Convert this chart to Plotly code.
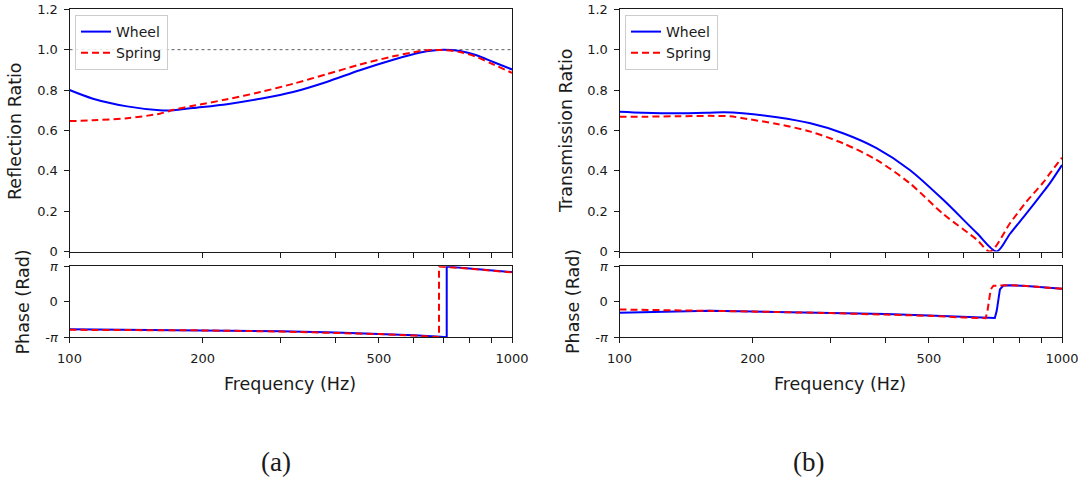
import numpy as np
import plotly.graph_objects as go

PI = np.pi

# ---------------- data ----------------
# (a) Reflection ratio
freq_refl = [100, 113, 135, 160, 172, 190, 227, 270, 320, 381, 453, 539, 598, 641, 700, 763, 832, 907, 1000]
refl_wheel = [0.800, 0.757, 0.719, 0.700, 0.700, 0.711, 0.730, 0.757, 0.790, 0.840, 0.898, 0.950, 0.977,
              0.992, 1.000, 0.993, 0.972, 0.939, 0.902]
refl_spring = [0.646, 0.650, 0.660, 0.683, 0.702, 0.722, 0.754, 0.790, 0.831, 0.878, 0.926, 0.967, 0.987,
               0.997, 0.998, 0.988, 0.964, 0.927, 0.885]

# (a) Reflection phase
freq_rph_wheel = [100, 200, 300, 400, 500, 600, 690, 712, 712, 763, 832, 907, 1000]
rph_wheel = [-2.42, -2.51, -2.60, -2.71, -2.83, -2.95, -3.10, -3.13, 3.12, 3.01, 2.89, 2.77, 2.63]
freq_rph_spring = [100, 200, 300, 400, 500, 600, 684, 684, 712, 763, 832, 907, 1000]
rph_spring = [-2.48, -2.53, -2.63, -2.74, -2.86, -2.99, -3.12, 3.13, 3.09, 3.00, 2.88, 2.75, 2.60]

# (b) Transmission ratio
freq_tr_wheel = [100, 113, 135, 160, 172, 190, 227, 270, 320, 381, 453, 539, 641, 712, 763, 832, 907, 940, 1000]
tr_wheel = [0.693, 0.688, 0.685, 0.688, 0.690, 0.685, 0.665, 0.635, 0.586, 0.512, 0.404, 0.256, 0.093,
            0.0, 0.088, 0.190, 0.295, 0.340, 0.428]
freq_tr_spring = [100, 113, 135, 160, 178, 190, 227, 270, 320, 381, 453, 539, 641, 688, 763, 832, 907, 940, 1000]
tr_spring = [0.668, 0.668, 0.670, 0.672, 0.670, 0.660, 0.632, 0.594, 0.536, 0.454, 0.338, 0.186, 0.060,
             0.0, 0.140, 0.248, 0.342, 0.388, 0.465]

# (b) Transmission phase
freq_tph_wheel = [100, 135, 160, 200, 300, 400, 500, 600, 675, 705, 712, 718, 724, 737, 763, 832, 940, 1000]
tph_wheel = [-0.97, -0.83, -0.80, -0.86, -0.97, -1.09, -1.21, -1.36, -1.45, -1.43, -0.80, 0.20, 1.10,
             1.44, 1.47, 1.39, 1.24, 1.16]
freq_tph_spring = [100, 135, 160, 200, 300, 400, 500, 600, 660, 672, 678, 684, 690, 700, 737, 763, 832, 940, 1000]
tph_spring = [-0.68, -0.74, -0.77, -0.86, -1.00, -1.12, -1.24, -1.39, -1.47, -1.45, -0.90, 0.20, 1.10,
              1.42, 1.46, 1.47, 1.39, 1.24, 1.16]

series_names = ["Wheel", "Spring"]
x_ticks = [100, 200, 300, 400, 500, 600, 700, 800, 900, 1000]
x_ticktext = ["100", "200", "", "", "500", "", "", "", "", "1000"]
ratio_ticks = [0, 0.2, 0.4, 0.6, 0.8, 1.0, 1.2]
ratio_ticktext = ["0", "0.2", "0.4", "0.6", "0.8", "1.0", "1.2"]
phase_ticks = [-PI, 0, PI]
phase_ticktext = ["-<i>π</i>", "0", "<i>π</i>"]

# ---------------- figure ----------------
W, H = 1086, 484
BLUE = "#0000ff"
RED = "#ff0000"
INK = "#1a1a1a"
FONT = "DejaVu Sans"


def px(xp):
    return xp / W


def py(yp):
    return 1 - yp / H


fig = go.Figure()


def add(x, y, name, color, dash, xa, ya, legend, showlegend, shape="linear"):
    fig.add_trace(go.Scatter(
        x=x, y=y, name=name, mode="lines",
        line=dict(color=color, width=2, dash=dash, shape=shape, smoothing=0.8),
        xaxis=xa, yaxis=ya, legend=legend, showlegend=showlegend, cliponaxis=True,
        hoverinfo="x+y+name"))


DASH = "7px,4px"
add(freq_refl, refl_wheel, series_names[0], BLUE, "solid", "x", "y", "legend", True, "spline")
add(freq_refl, refl_spring, series_names[1], RED, DASH, "x", "y", "legend", True, "spline")
add(freq_rph_wheel, rph_wheel, series_names[0], BLUE, "solid", "x2", "y2", "legend", False)
add(freq_rph_spring, rph_spring, series_names[1], RED, DASH, "x2", "y2", "legend", False)
add(freq_tr_wheel, tr_wheel, series_names[0], BLUE, "solid", "x3", "y3", "legend2", True, "spline")
add(freq_tr_spring, tr_spring, series_names[1], RED, DASH, "x3", "y3", "legend2", True, "spline")
add(freq_tph_wheel, tph_wheel, series_names[0], BLUE, "solid", "x4", "y4", "legend2", False)
add(freq_tph_spring, tph_spring, series_names[1], RED, DASH, "x4", "y4", "legend2", False)

left_dom = [px(69.5), px(512)]
right_dom = [px(619.5), px(1062)]
top_dom = [py(251.5), py(9.3)]
bot_dom = [py(337.3), py(266.3)]

axis_common = dict(showline=True, linecolor=INK, linewidth=1, mirror=True, showgrid=False,
                   zeroline=False, ticks="outside", ticklen=5, tickwidth=1, tickcolor=INK,
                   automargin=False,
                   tickfont=dict(family=FONT, size=13, color=INK))


def xax(domain, anchor, labels):
    d = dict(axis_common)
    d.update(type="log", range=[2, 3], domain=domain, anchor=anchor, tickmode="array",
             tickvals=x_ticks, ticktext=x_ticktext, showticklabels=labels, ticklabelstandoff=4)
    return d


def yax(domain, anchor, vals, text, rng):
    d = dict(axis_common)
    d.update(domain=domain, anchor=anchor, range=rng, tickmode="array", tickvals=vals,
             ticktext=text, ticklabelstandoff=3)
    return d


fig.update_layout(
    width=W, height=H,
    margin=dict(l=0, r=0, t=0, b=0, pad=0, autoexpand=False),
    paper_bgcolor="white", plot_bgcolor="white",
    font=dict(family=FONT, color=INK),
    xaxis=xax(left_dom, "y", False),
    xaxis2=xax(left_dom, "y2", True),
    xaxis3=xax(right_dom, "y3", False),
    xaxis4=xax(right_dom, "y4", True),
    yaxis=yax(top_dom, "x", ratio_ticks, ratio_ticktext, [0, 1.2]),
    yaxis2=yax(bot_dom, "x2", phase_ticks, phase_ticktext, [-PI, PI]),
    yaxis3=yax(top_dom, "x3", ratio_ticks, ratio_ticktext, [0, 1.2]),
    yaxis4=yax(bot_dom, "x4", phase_ticks, phase_ticktext, [-PI, PI]),
    legend=dict(x=px(75), y=py(15), xanchor="left", yanchor="top",
                bgcolor="rgba(255,255,255,0.85)", bordercolor="#cccccc", borderwidth=1,
                font=dict(family=FONT, size=14, color=INK), itemwidth=30, tracegroupgap=0),
    legend2=dict(x=px(625), y=py(15), xanchor="left", yanchor="top",
                 bgcolor="rgba(255,255,255,0.85)", bordercolor="#cccccc", borderwidth=1,
                 font=dict(family=FONT, size=14, color=INK), itemwidth=30, tracegroupgap=0),
    showlegend=True,
)

# dotted reference line at 1.0 on the reflection plot
fig.add_shape(type="line", xref="x domain", yref="y", x0=0, x1=1, y0=1.0, y1=1.0,
              line=dict(color="#333333", width=0.8, dash="dot"), layer="below")

ann = []


def label(text, x, y, size=17.5, angle=0, family=FONT):
    ann.append(dict(text=text, x=px(x), y=py(y), xref="paper", yref="paper", showarrow=False,
                    xanchor="center", yanchor="middle", textangle=angle,
                    font=dict(family=family, size=size, color=INK)))


label("Reflection Ratio", 15, 131, angle=-90)
label("Phase (Rad)", 22.5, 302, angle=-90)
label("Transmission Ratio", 566, 131, angle=-90)
label("Phase (Rad)", 573, 302, angle=-90)
label("Frequency (Hz)", 290, 384)
label("Frequency (Hz)", 840, 384)
label("(a)", 276, 461.5, size=27, family="Liberation Serif")
label("(b)", 808.5, 461.5, size=27, family="Liberation Serif")
fig.update_layout(annotations=ann)

fig.write_html("out.html", config={"displayModeBar": False},
               post_script="document.body.style.margin='0';document.body.style.overflow='hidden';")
